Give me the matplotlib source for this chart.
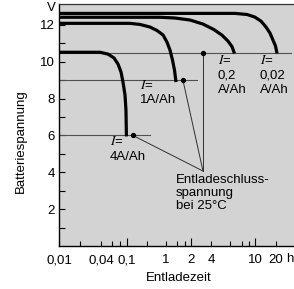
import numpy as np
import matplotlib
matplotlib.use("Agg")
import matplotlib.pyplot as plt

plt.rcParams['font.family'] = ['Liberation Sans', 'DejaVu Sans']
plt.rcParams['mathtext.fontset'] = 'stix'

# ---------------- data ----------------
# discharge curves: time in h, voltage in V
t_4 = [0.01, 0.0387, 0.0513, 0.0636, 0.0733, 0.0816, 0.0876, 0.0941, 0.0974, 0.099]
v_4 = [10.52, 10.52, 10.42, 10.21, 9.88, 9.45, 8.90, 8.20, 7.38, 5.95]

t_1 = [0.01, 0.121, 0.218, 0.392, 0.590, 0.839, 1.028, 1.117, 1.197, 1.266, 1.301, 1.319]
v_1 = [12.09, 12.09, 12.03, 11.89, 11.70, 11.46, 11.07, 10.64, 10.10, 9.55, 9.12, 8.90]

t_02 = [0.01, 0.703, 1.283, 1.945, 3.03, 4.25, 5.01, 5.67, 6.16, 6.49]
v_02 = [12.42, 12.42, 12.38, 12.27, 12.05, 11.75, 11.45, 11.13, 10.83, 10.45]

t_002 = [0.01, 6.56, 8.40, 9.87, 12.04, 14.26, 16.33, 18.07, 19.66, 20.7]
v_002 = [12.63, 12.63, 12.57, 12.43, 12.21, 11.89, 11.56, 11.18, 10.86, 10.45]

# end-of-discharge voltage reference lines (voltage, end time)
ref_v = [10.5, 9.0, 6.0]
ref_t_end = [32.9, 2.46, 0.392]

# end-of-discharge points and the common leader apex
end_t = [0.145, 1.6, 3.03]
end_v = [6.0, 9.0, 10.5]
apex_t, apex_v = 3.03, 4.07

# axis ticks
x_labels_pos = [0.01, 0.04, 0.1, 1, 2, 4, 10, 20]
x_labels = ['0,01', '0,04', '0,1', '1', '2', '4', '10', '20']
x_long = [0.1, 2, 10]
x_minor = [0.02, 0.06, 0.08, 0.334, 1.35, 1.69, 5.9, 7.5, 8.8]
y_major = [2, 4, 6, 8, 10, 12]
y_minor = [1, 3, 5, 7, 9, 11]

# ---------------- scale (hand-drawn logarithmic time axis) ----------------
SC_T = np.log10([1e-4, 0.01, 0.04, 0.1, 1, 2, 4, 10, 20, 1000])
SC_P = np.array([-80.6, 59, 101, 126.7, 166, 191, 211, 255.5, 276, 391.7])


def fwd(x):
    x = np.asarray(x, dtype=float)
    return np.interp(np.log10(np.clip(x, 1e-4, 1e3)), SC_T, SC_P)


def inv(p):
    p = np.asarray(p, dtype=float)
    return 10 ** np.interp(p, SC_P, SC_T)


W, H = 294, 289
fig = plt.figure(figsize=(W / 100, H / 100), dpi=100)
ax = fig.add_axes([59 / W, (H - 246) / H, (296 - 59) / W, 242 / H])
ax.set_xscale('function', functions=(fwd, inv))
ax.set_facecolor('#d3d3d3')
ax.set_xlim(0.01, float(inv(296)))
ax.set_ylim(0, 13.14)


def px(x, y):
    return x / W, 1 - y / H


# reference lines
for v, te in zip(ref_v, ref_t_end):
    ax.plot([0.01, te], [v, v], color='#505050', lw=0.8, zorder=2)

# curves
for t, v in [(t_4, v_4), (t_1, v_1), (t_02, v_02), (t_002, v_002)]:
    ax.plot(t, v, color='black', lw=2.3, solid_capstyle='butt',
            solid_joinstyle='round', zorder=3)

# leader lines
for t, v in zip(end_t, end_v):
    ax.plot([t, apex_t], [v, apex_v], color='#303030', lw=0.7, zorder=2)
ax.plot(end_t, end_v, 'o', color='black', ms=2.8, zorder=4)

# ticks
ax.xaxis.set_major_locator(matplotlib.ticker.FixedLocator(x_labels_pos))
ax.xaxis.set_major_formatter(matplotlib.ticker.FixedFormatter(x_labels))
ax.xaxis.set_minor_locator(matplotlib.ticker.FixedLocator(x_minor))
ax.yaxis.set_major_locator(matplotlib.ticker.FixedLocator(y_major))
ax.yaxis.set_minor_locator(matplotlib.ticker.FixedLocator(y_minor))
ax.tick_params(axis='both', which='both', direction='in', width=0.8,
               color='black', labelsize=9.5)
ax.tick_params(axis='x', which='major', length=3.8, pad=6)
ax.tick_params(axis='x', which='minor', length=3.8)
ax.tick_params(axis='y', which='both', length=4.3, pad=3)
fig.canvas.draw()
for tk, pos in zip(ax.xaxis.get_major_ticks(), x_labels_pos):
    if pos in x_long:
        tk.tick1line.set_markersize(6.0)

for s in ['left', 'bottom']:
    ax.spines[s].set_linewidth(1.0)
ax.spines['top'].set_linewidth(0.9)
ax.spines['top'].set_color('#333333')
ax.spines['right'].set_visible(False)

# unit labels
fig.text(*px(51, 8), 'V', ha='center', va='center', fontsize=9.5)
fig.text(*px(286.5, 258.5), 'h', ha='left', va='center', fontsize=9.5)

# axis titles
fig.text(*px(21, 141.5), 'Batteriespannung', rotation=90, ha='center',
         va='center', fontsize=9.5)
fig.text(*px(178.5, 278), 'Entladezeit', ha='center', va='center', fontsize=9.5)

# curve labels
fs = 9.5
for (xl, y1, lines) in [(110, 141.7, ['4A/Ah']),
                        (140, 85, ['1A/Ah']),
                        (218, 61, ['0,2', 'A/Ah']),
                        (260, 61, ['0,02', 'A/Ah'])]:
    fig.text(*px(xl, y1), '$I$=', ha='left', va='center', fontsize=fs)
    for i, s in enumerate(lines):
        fig.text(*px(xl, y1 + 15 + 14.3 * i), s, ha='left', va='center',
                 fontsize=fs)

fig.text(*px(176, 193), 'Entladeschluss-\nspannung\nbei 25°C', ha='left',
         va='center', fontsize=fs, linespacing=1.12)

fig.savefig('out.png', dpi=100)
